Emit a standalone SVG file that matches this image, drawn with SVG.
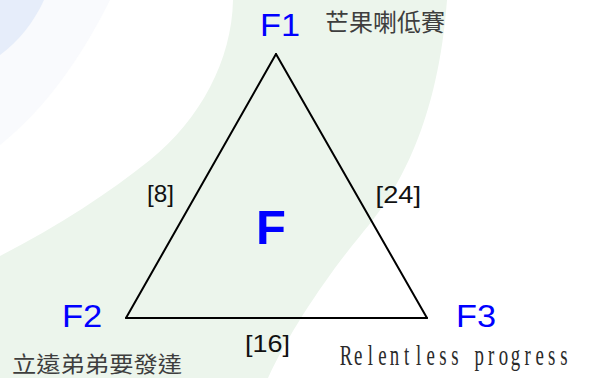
<svg xmlns="http://www.w3.org/2000/svg" width="589" height="378" viewBox="0 0 589 378">
  <style>
    .node { font-family: "Liberation Sans", Arial, sans-serif; font-size: 31px; fill: #0000ff; }
    .center { font-family: "Liberation Sans", Arial, sans-serif; font-size: 49px; font-weight: bold; fill: #0000ff; }
    .edge { stroke: #000; stroke-width: 2; fill: none; stroke-linecap: round; }
    .elabel { font-family: "Liberation Sans", Arial, sans-serif; font-size: 24px; fill: #111; }
    .cjk { font-family: "Noto Sans CJK TC", "Noto Sans CJK SC", sans-serif; fill: #3e3e3e; }
    .latin { font-family: "Liberation Serif", "Times New Roman", serif; font-size: 29px; fill: #2a2a2a; }
  </style>
  <g id="background">
    <rect x="0" y="0" width="589" height="378" fill="#ffffff"/>
    <path d="M0,0 L110,0 C85,50 50,105 0,145 Z" fill="#f9fafd"/>
    <path d="M0,0 L44,0 C34,22 18,42 0,55 Z" fill="#e6edfa"/>
    <path d="M233,0 L447,0 C438,120 400,190 360,236 C330,272 290,330 268,378 L0,378 L0,256 C60,225 110,192 150,160 C200,120 232,60 233,0 Z" fill="#ecf5ec"/>
  </g>
  <g id="connectors">
    <line class="edge" x1="276" y1="54" x2="126" y2="318"/>
    <line class="edge" x1="276" y1="54" x2="427" y2="318"/>
    <line class="edge" x1="126" y1="318" x2="427" y2="318"/>
    <text class="elabel" x="147" y="202" textLength="27" lengthAdjust="spacingAndGlyphs">[8]</text>
    <text class="elabel" x="375.6" y="202.5" textLength="45.4" lengthAdjust="spacingAndGlyphs">[24]</text>
    <text class="elabel" x="245" y="352" textLength="45" lengthAdjust="spacingAndGlyphs">[16]</text>
  </g>
  <g id="F1">
    <text class="node" x="260" y="36" textLength="40" lengthAdjust="spacingAndGlyphs">F1</text>
    <text class="cjk" x="325" y="31" font-size="24" textLength="120" lengthAdjust="spacingAndGlyphs">芒果喇低賽</text>
  </g>
  <g id="F2">
    <text class="node" x="62" y="327" textLength="40.3" lengthAdjust="spacingAndGlyphs">F2</text>
    <text class="cjk" x="12" y="371.5" font-size="22" textLength="170" lengthAdjust="spacingAndGlyphs">立遠弟弟要發達</text>
  </g>
  <g id="F3">
    <text class="node" x="456" y="327" textLength="40" lengthAdjust="spacingAndGlyphs">F3</text>
    <text class="latin" transform="translate(340,365) scale(0.65,1)" x="-0.36 21.48 42.51 58.72 76.52 98.36 116.97 133.18 152.59 171.21 186.15 206.83 227.86 244.06 262.67 283.71 300.71 320.13 338.74" y="0">Relentless progress</text>
  </g>
  <g id="F">
    <text class="center" x="256" y="244">F</text>
  </g>
</svg>
